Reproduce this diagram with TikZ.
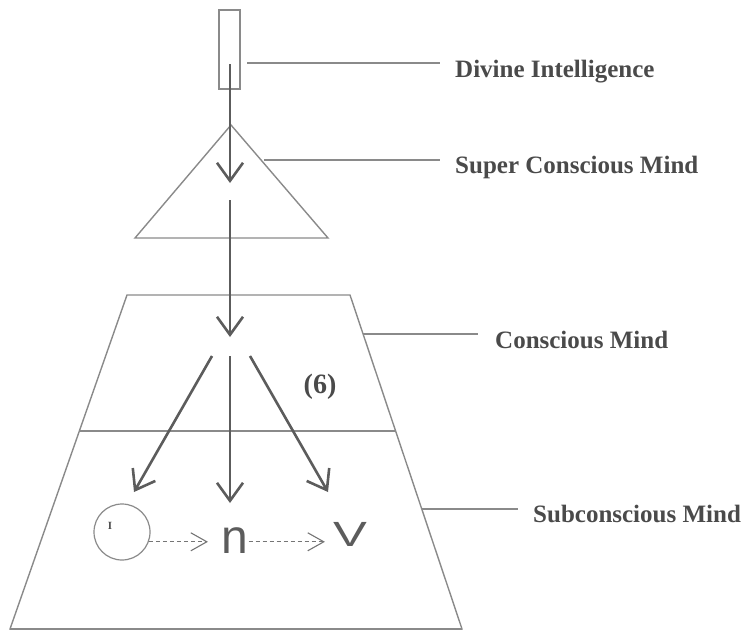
\documentclass[tikz,border=0pt]{standalone}
\usepackage{fontspec}
\setmainfont{Liberation Serif}
\newfontfamily\sansf{Liberation Sans}
\usetikzlibrary{arrows.meta,calc}
\definecolor{shapegray}{HTML}{8A8A8A}
\definecolor{arrowgray}{HTML}{5C5C5C}
\definecolor{textgray}{HTML}{4A4A4A}
\tikzset{
  shapeline/.style={draw=shapegray, line width=1.4pt, line join=miter},
  leader/.style={draw=shapegray, line width=1.6pt},
  bigarrow/.style={draw=arrowgray, line width=2.6pt, -{Straight Barb[length=18pt,width=26pt]}},
  dasharrow/.style={draw=shapegray!85!black, line width=1.1pt, dash pattern=on 4pt off 3pt, -{Straight Barb[length=16pt,width=18pt]}},
  lbl/.style={font=\fontsize{25}{25}\selectfont\bfseries, text=textgray, inner sep=0pt, anchor=base west},
}
\begin{document}
\begin{tikzpicture}[x=1pt,y=-1pt]
\useasboundingbox (0,0) rectangle (743,632);
% shapes
\draw[shapeline] (219,10) rectangle (240,89);
\draw[shapeline] (231,125) -- (328,238) -- (135,238) -- cycle;
\draw[shapeline] (127,295) -- (350,295) -- (462,629) -- (10,629) -- cycle;
\draw[shapeline] (79,431) -- (395,431);
\draw[draw=shapegray, line width=2pt] (10,629) -- (462,629);
% labels
\node[lbl] (di) at (455,77) {Divine Intelligence};
\node[lbl] (sc) at (455,173) {Super Conscious Mind};
\node[lbl] (cm) at (495,348) {Conscious Mind};
\node[lbl] (sm) at (533,522) {Subconscious Mind};
\coordinate (diA) at (247,63);  \coordinate (diB) at (440,63);
\coordinate (scA) at (264,160); \coordinate (scB) at (440,160);
\coordinate (cmA) at (363,334); \coordinate (cmB) at (478,334);
\coordinate (smA) at (422,509); \coordinate (smB) at (518,509);
\draw[leader] (diA) -- (diB);
\draw[leader] (scA) -- (scB);
\draw[leader] (cmA) -- (cmB);
\draw[leader] (smA) -- (smB);
% big arrows
\coordinate (a1s) at (230,64);  \coordinate (a1e) at (230,183);
\coordinate (a2s) at (230,200); \coordinate (a2e) at (230,337);
\coordinate (l3s) at (212,356); \coordinate (l3e) at (134,492);
\coordinate (c3s) at (230,356); \coordinate (c3e) at (230,503);
\coordinate (r3s) at (250,356); \coordinate (r3e) at (328,492);
\draw[bigarrow] (a1s) -- (a1e);
\draw[bigarrow] (a2s) -- (a2e);
\draw[bigarrow] (l3s) -- (l3e);
\draw[bigarrow] (c3s) -- (c3e);
\draw[bigarrow] (r3s) -- (r3e);
% (6)
\node[font=\fontsize{28}{28}\selectfont\bfseries, text=textgray, inner sep=0pt] (six) at (320,387) {(6)};
% bottom row
\node[circle, draw=shapegray, line width=1.2pt, minimum size=56pt, inner sep=0pt] (circ) at (122,532) {};
\node[font=\fontsize{11}{11}\selectfont\bfseries, text=textgray, inner sep=0pt] (mark) at (110,526) {I};
\node[font=\fontsize{48}{48}\sansf, text=arrowgray, inner sep=0pt] (nn) at (235,541) {n};
\node[font=\fontsize{35}{35}\sansf, text=arrowgray, inner sep=0pt] (vv) at (350,534.5) {\scalebox{1.45}[1]{V}};
\draw[dasharrow, shorten >=13.5pt] (circ.-20) -- (circ.-20 -| nn.west);
\draw[dasharrow, shorten >=8pt] (nn.east |- circ.-20) -- (circ.-20 -| vv.west);
\end{tikzpicture}
\end{document}
